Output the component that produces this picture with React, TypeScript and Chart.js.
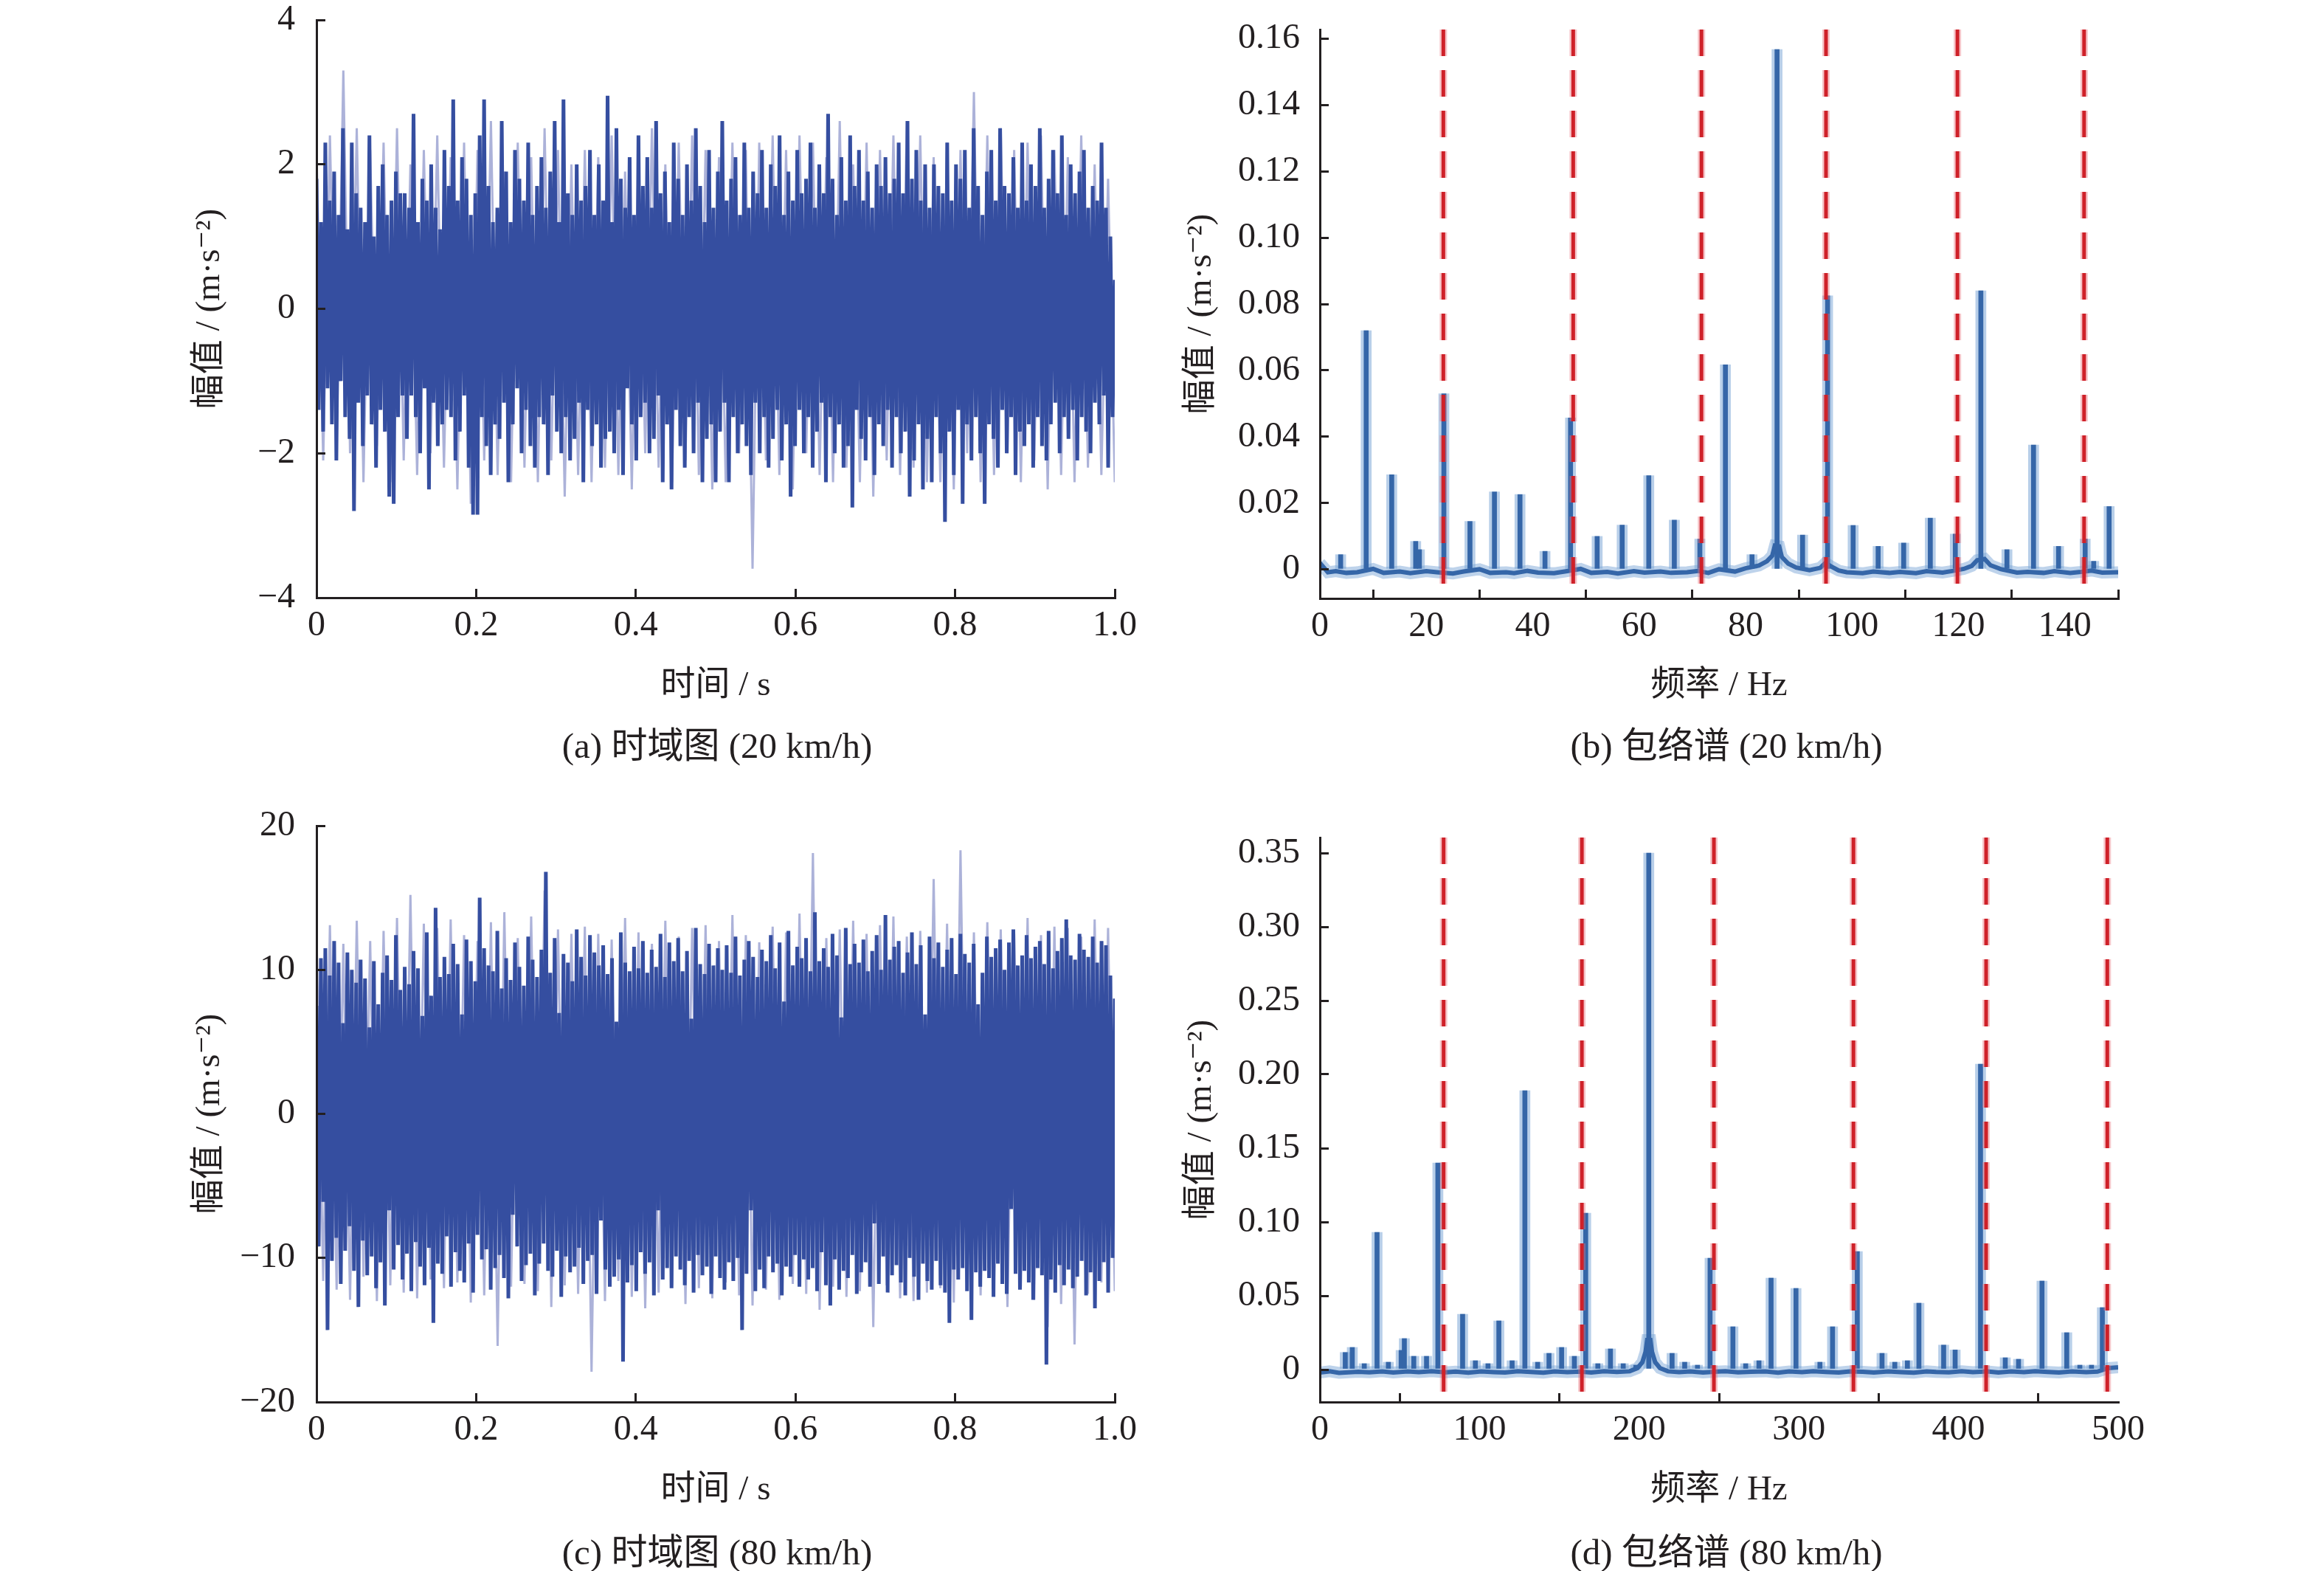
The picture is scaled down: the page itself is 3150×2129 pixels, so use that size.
import React, { useEffect, useRef } from 'react';
import { Chart, registerables } from 'chart.js';

Chart.register(...registerables);

const FONT = "'Liberation Serif', 'DejaVu Serif', 'Noto Sans CJK SC', serif";
const INK = '#231f20';

// ---------- (a) time signal, 20 km/h (m/s^2) ----------
const aSignal = [
  1.8, -1.4, 1.2, -1.7, 2.3, -1.1, 1.5, -1.6, 1.9, -2.1, 1.3, -1.0, 2.5, -1.5, 1.1, -1.8, 2.3, -2.8, 1.6, -1.3,
  1.4, -1.9, 1.2, -1.2, 2.4, -1.6, 1.0, -2.2, 1.7, -1.4, 2.0, -1.7, 1.3, -2.6, 1.5, -2.7, 1.9, -1.5, 1.6, -1.2,
  1.6, -1.8, 1.4, -1.2, 2.7, -1.5, 1.2, -2.0, 1.8, -1.1, 1.5, -2.5, 2.0, -1.3, 1.4, -1.9, 1.1, -1.6, 2.2, -1.4, 1.7, -1.5,
  2.9, -2.1, 1.5, -1.7, 2.1, -1.2, 1.8, -2.2, 1.3, -2.85, 1.6, -2.85, 2.4, -1.5, 2.9, -1.9, 1.7, -2.3, 1.2, -1.6,
  1.4, -1.8, 2.6, -1.3, 1.9, -2.4, 1.2, -1.6, 2.2, -1.1, 1.8, -2.0, 1.5, -1.4, 2.3, -1.9, 1.3, -2.2, 1.7, -1.5,
  2.1, -1.6, 1.4, -2.3, 1.9, -1.2, 2.6, -1.7, 1.2, -2.0, 2.9, -1.5, 1.6, -2.1, 1.3, -1.8, 2.0, -1.3, 1.5, -2.4,
  1.7, -1.4, 2.2, -1.9, 1.3, -1.6, 2.0, -2.2, 1.5, -1.8, 2.95, -1.7, 1.2, -2.0, 2.5, -1.4, 1.8, -2.3, 1.4, -1.1, 2.1,
  -1.6, 1.3, -2.1, 2.4, -1.5, 1.7, -1.3, 2.1, -2.0, 1.4, -1.8, 2.6, -1.2, 1.6, -2.4, 1.9, -1.6, 1.2, -2.5, 2.3,
  -1.4, 1.8, -1.9, 1.3, -2.2, 2.0, -1.5, 1.5, -2.0, 2.5, -1.3, 1.7, -2.4, 1.2, -1.8, 2.2, -1.6, 1.4, -2.4, 1.9,
  -1.7, 2.6, -1.3, 1.5, -2.4, 1.8, -1.5, 2.1, -2.0, 1.3, -1.6, 2.3, -1.9, 1.4, -2.3, 1.9, -1.3, 1.6, -2.0, 2.2,
  -1.5, 1.4, -2.2, 2.0, -1.8, 1.7, -1.4, 2.4, -2.1, 1.3, -1.6, 1.9, -2.6, 1.5, -1.9, 2.2, -1.4, 1.6, -2.0, 1.8,
  -1.5, 2.3, -2.2, 1.4, -1.7, 2.0, -1.3, 1.6, -2.4, 2.7, -1.5, 1.8, -2.0, 1.3, -1.6, 2.1, -2.2, 1.5, -1.9, 2.4,
  -2.75, 1.7, -1.4, 2.2, -1.8, 1.5, -2.1, 1.9, -1.5, 1.4, -2.3, 2.0, -1.6, 1.7, -1.9, 2.1, -1.4, 1.6, -2.2, 1.8,
  -1.5, 2.3, -2.0, 1.6, -1.7, 2.6, -2.6, 1.8, -2.1, 2.2, -1.6, 1.5, -2.5, 2.0, -1.8, 1.4, -2.4, 2.0, -1.5, 1.7,
  -2.0, 1.6, -2.95, 2.3, -1.7, 1.5, -2.3, 2.0, -1.4, 1.8, -2.7, 2.2, -1.6, 1.4, -2.1, 2.5, -1.5, 1.7, -2.0, 1.3,
  -2.7, 1.9, -1.6, 2.2, -1.8, 1.5, -2.2, 2.5, -1.4, 1.7, -2.0, 1.6, -1.5, 2.1, -2.3, 1.4, -1.7, 2.3, -1.9, 1.5,
  -1.6, 2.0, -2.2, 1.7, -1.5, 2.5, -1.9, 1.4, -2.1, 1.8, -1.6, 2.2, -1.3, 1.6, -2.0, 2.4, -1.5, 1.3, -1.8, 2.0,
  -1.4, 1.6, -2.1, 1.9, -1.5, 2.2, -1.7, 1.4, -2.0, 1.7, -1.3, 1.5, -1.6, 2.3, -1.2, 1.4, -2.2, 1.0, -1.5, 0.4,
];
const aSignalFaint = [
  2.2, -2.1, 2.4, -1.9, 3.3, -2.0, 2.5, -2.4, 2.2, -1.9,
  2.3, -2.4, 2.5, -2.1, 2.0, -2.3, 2.2, -2.0, 2.4, -2.2,
  2.1, -2.5, 2.3, -2.7, 2.2, -2.1, 2.6, -2.3, 1.9, -2.4,
  2.3, -2.2, 2.1, -2.4, 2.5, -2.1, 2.2, -2.6, 2.0, -2.3,
  2.2, -2.4, 2.1, -2.2, 2.4, -2.3, 1.9, -2.5, 2.2, -2.0,
  2.5, -2.2, 2.0, -2.4, 2.3, -2.1, 2.4, -2.3, 2.2, -2.5,
  2.1, -2.4, 2.3, -2.0, 2.2, -3.6, 2.3, -2.1, 2.4, -2.3,
  2.2, -2.5, 2.4, -2.0, 2.3, -2.3, 2.1, -2.4, 2.6, -2.2,
  2.0, -2.4, 2.3, -2.6, 2.2, -2.1, 2.4, -2.3, 2.6, -2.2,
  2.4, -2.4, 2.1, -2.4, 2.3, -2.5, 2.2, -2.0, 3.0, -2.4,
  2.4, -2.3, 2.5, -2.0, 2.2, -2.4, 2.3, -2.1, 2.4, -2.5,
  2.2, -2.3, 2.1, -2.4, 2.4, -2.2, 2.0, -2.3, 1.8, -2.4,
];

// ---------- (c) time signal, 80 km/h ----------
const cSignal = [
  7.5, -9.2, 10.8, -6.1, 11.5, -15.0, 9.6, -10.2, 12.0, -8.6, 10.5, -11.8, 6.3, -9.5, 11.2, -7.8, 10.0, -10.9, 9.1, -13.4,
  10.7, -8.8, 9.4, -11.2, 6.0, -9.9, 10.6, -12.1, 7.6, -10.3, 9.8, -13.3, 11.0, -6.7, 9.3, -10.8, 12.4, -9.1, 8.6, -11.5,
  10.2, -9.7, 9.0, -12.3, 11.3, -8.9, 10.1, -10.6, 6.8, -11.9, 12.6, -9.3, 8.2, -14.5, 14.3, -10.4, 9.5, -11.1, 10.9, -8.5, 9.7,
  -12.0, 11.8, -9.6, 10.4, -10.9, 6.9, -11.7, 12.1, -9.0, 10.6, -12.4, 9.2, -8.4, 15.0, -10.1, 11.5, -9.4, 10.3, -12.2, 9.9, -10.7,
  12.7, -9.8, 8.7, -11.4, 10.8, -12.8, 9.3, -7.0, 11.9, -9.2, 10.2, -11.6, 8.9, -10.5, 12.3, -9.7, 10.7, -12.6, 9.5, -10.4,
  11.4, -9.0, 16.8, -10.9, 9.8, -11.3, 12.2, -9.5, 7.0, -12.7, 11.1, -9.9, 10.5, -11.0, 9.2, -10.6, 12.8, -9.3, 10.9, -11.8, 9.6,
  -10.2, 12.4, -9.8, 11.2, -12.5, 10.3, -7.4, 11.7, -10.8, 9.7, -12.0, 10.8, -11.3, 6.4, -10.1, 12.6, -17.2, 10.5, -11.7, 9.9,
  -10.5, 11.6, -12.3, 10.1, -9.6, 12.0, -11.1, 9.8, -10.3, 11.4, -12.6, 10.2, -6.7, 12.5, -11.5, 9.5, -10.7, 11.9, -12.1, 10.6,
  -9.9, 12.2, -10.8, 9.9, -11.9, 11.3, -10.2, 6.6, -12.4, 12.9, -9.8, 10.4, -11.2, 9.7, -10.6, 11.8, -12.5, 10.3, -9.9, 11.5,
  -11.4, 10.0, -12.2, 11.7, -10.3, 9.8, -11.6, 12.3, -10.0, 9.6, -15.0, 10.7, -11.1, 12.0, -6.7, 10.9, -12.3, 9.5, -10.8, 11.4,
  -12.1, 10.6, -9.9, 12.4, -11.0, 10.1, -10.4, 11.9, -12.6, 7.8, -10.6, 12.7, -11.3, 10.3, -9.8, 11.6, -12.0, 10.8, -10.1, 12.2,
  -11.5, 9.9, -10.7, 14.0, -12.3, 10.6, -9.6, 11.5, -11.9, 10.2, -13.3, 12.5, -10.1, 11.0, -12.2, 6.7, -10.9, 12.9, -11.4, 10.4,
  -9.8, 11.8, -12.5, 10.5, -11.0, 12.1, -10.3, 9.9, -12.0, 11.3, -7.6, 12.4, -11.8, 10.0, -9.9, 13.8, -12.4, 10.7, -11.2, 11.6,
  -10.5, 12.0, -11.7, 9.8, -12.6, 11.2, -10.0, 12.6, -11.3, 10.4, -12.9, 11.7, -10.4, 6.9, -11.6, 12.3, -12.2, 10.8, -10.2, 11.9,
  -11.9, 10.2, -12.4, 11.4, -14.5, 12.2, -10.8, 9.7, -11.5, 12.5, -10.7, 11.1, -12.3, 10.5, -14.3, 11.8, -11.0, 7.6, -12.0, 9.8,
  -10.9, 12.3, -11.4, 10.9, -12.7, 11.5, -10.4, 12.1, -11.8, 10.0, -12.5, 11.9, -6.6, 12.8, -11.1, 10.3, -12.2, 11.0, -10.9, 12.4,
  -11.7, 10.8, -12.9, 11.6, -10.7, 12.0, -11.2, 10.4, -17.4, 12.7, -11.5, 10.1, -12.4, 11.3, -10.5, 12.2, -11.9, 13.5, -10.8, 11.0,
  -12.1, 10.7, -11.3, 12.5, -10.2, 11.4, -12.6, 10.9, -11.0, 12.3, -13.5, 10.5, -11.6, 12.0, -10.3, 11.7, -12.4, 9.6, -10.0, 8.0,
];
const cSignalFaint = [
  12.5, -11.6, 13.1, -12.2, 11.8, -12.9, 13.4, -11.3, 12.0, -13.0,
  12.7, -11.9, 13.6, -12.4, 15.2, -12.8, 13.2, -11.5, 12.9, -12.1,
  13.5, -11.7, 12.4, -13.1, 12.0, -12.6, 13.3, -16.1, 14.0, -12.0,
  12.2, -11.8, 13.7, -12.3, 15.5, -13.4, 12.8, -11.9, 12.5, -12.5,
  13.0, -17.9, 12.5, -13.0, 12.1, -11.6, 13.6, -12.7, 12.6, -13.5,
  11.8, -12.4, 13.4, -11.9, 12.3, -13.2, 12.9, -12.1, 13.1, -12.8,
  12.0, -11.7, 13.8, -12.6, 12.4, -13.3, 11.9, -12.2, 13.0, -12.9,
  12.6, -11.8, 13.9, -12.5, 18.1, -13.6, 12.2, -12.0, 12.8, -12.7,
  13.4, -12.3, 12.5, -14.8, 13.1, -11.9, 13.7, -12.8, 12.3, -13.0,
  12.7, -12.4, 16.3, -12.1, 13.2, -13.1, 18.3, -12.0, 12.6, -12.6,
  13.3, -11.8, 12.8, -13.4, 12.5, -12.0, 13.6, -12.9, 12.4, -14.8,
  13.0, -13.2, 12.9, -16.0, 12.3, -12.5, 13.5, -11.7, 12.9, -12.3,
];

// ---------- (b) envelope spectrum, 20 km/h ----------
const bPeakHz = [3.9, 8.7, 13.5, 18.0, 18.7, 23.3, 28.2, 32.8, 37.6, 42.3, 47.1, 52.1, 56.8, 61.8, 66.6, 71.4, 76.2, 81.2, 85.9, 90.7, 95.4, 100.2, 104.9, 109.7, 114.7, 119.4, 124.2, 129.1, 134.1, 138.8, 143.8, 145.4, 148.3];
const bPeakAmp = [0.0045, 0.072, 0.0286, 0.0085, 0.006, 0.053, 0.0145, 0.0234, 0.0226, 0.0055, 0.0457, 0.010, 0.0134, 0.0283, 0.0149, 0.0092, 0.0617, 0.0045, 0.1567, 0.0104, 0.0825, 0.0133, 0.007, 0.008, 0.0155, 0.0107, 0.084, 0.006, 0.0375, 0.007, 0.0092, 0.0025, 0.019];
const bFloorHz = [0, 1.5, 3, 5, 7, 10, 12, 15, 17, 20, 22, 25, 27, 30, 32, 35, 36.5, 39, 41, 44, 46, 49, 51, 54, 56, 59, 61, 64, 66, 69, 71, 73, 75, 78, 80, 82.5, 84, 85, 85.5, 86.3, 86.8, 88, 89.5, 92, 94, 95, 96, 97.5, 99, 102, 104, 107, 109, 112, 114, 117, 119, 121, 122.5, 123.5, 124.9, 126, 128, 131, 133, 136, 138, 141, 143, 145, 147, 150];
const bFloorAmp = [0.002, -0.0008, -0.0005, -0.001, -0.0008, 0.0002, -0.001, -0.0006, -0.0011, -0.0005, -0.0008, -0.0012, -0.0006, 0.0001, -0.001, -0.0008, -0.0011, -0.0004, -0.0009, -0.0011, -0.0006, 0.0002, -0.001, -0.0007, -0.0012, -0.0005, -0.0009, -0.0006, -0.001, -0.0008, -0.0004, -0.001, 0.0001, -0.0006, 0.0004, 0.0012, 0.0025, 0.0042, 0.0072, 0.007, 0.0038, 0.0018, 0.0006, -0.0002, 0.0005, 0.002, 0.001, -0.0003, -0.0008, -0.0011, -0.0006, -0.001, -0.0007, -0.0011, -0.0005, -0.0009, -0.0004, 0.0002, 0.0011, 0.0028, 0.0032, 0.0013, 0.0001, -0.0009, -0.0007, -0.001, -0.0005, -0.001, -0.0007, -0.0003, -0.0009, -0.0008];
const bMarkHz = [23.2, 47.6, 71.7, 95.1, 119.8, 143.6];

// ---------- (d) envelope spectrum, 80 km/h ----------
const dPeakHz = [15.9, 20.3, 27.8, 35.8, 42.9, 50.9, 52.9, 58.8, 66.8, 73.9, 89.4, 97.4, 105.3, 112.1, 120.4, 128.4, 136.4, 143.5, 151.4, 159.4, 166.5, 174.1, 182.0, 190.0, 197.9, 206.0, 220.6, 228.5, 236.5, 244.4, 258.7, 266.7, 275.0, 282.6, 298.2, 313.2, 321.1, 336.6, 352.1, 360.1, 368.0, 375.2, 390.7, 397.9, 413.8, 429.3, 437.6, 452.3, 467.8, 476.0, 483.3, 490.1];
const dPeakAmp = [0.0116, 0.015, 0.004, 0.093, 0.005, 0.013, 0.021, 0.009, 0.009, 0.140, 0.0375, 0.006, 0.004, 0.033, 0.006, 0.189, 0.005, 0.011, 0.015, 0.009, 0.106, 0.004, 0.014, 0.004, 0.003, 0.350, 0.011, 0.005, 0.003, 0.0755, 0.029, 0.004, 0.006, 0.062, 0.055, 0.005, 0.029, 0.080, 0.011, 0.005, 0.006, 0.045, 0.0166, 0.0133, 0.207, 0.008, 0.007, 0.060, 0.025, 0.003, 0.003, 0.042];
const dFloorHz = [0, 6, 12, 24, 31, 39, 46, 55, 62, 70, 79, 85, 93, 101, 109, 116, 124, 132, 140, 147, 155, 163, 170, 178, 186, 194, 199, 202, 204, 205, 207, 208, 210, 213, 218, 225, 232, 240, 249, 254, 262, 270, 279, 287, 294, 302, 309, 317, 325, 332, 340, 347, 356, 364, 372, 380, 386, 394, 402, 409, 418, 425, 433, 441, 448, 456, 463, 471, 480, 487, 494, 500];
const dFloorAmp = [-0.002, -0.0012, -0.0022, -0.0015, -0.0019, -0.0012, -0.002, -0.0013, -0.0018, -0.0011, -0.0019, -0.0014, -0.0021, -0.0012, -0.0017, -0.002, -0.0011, -0.0016, -0.0021, -0.0012, -0.0018, -0.0014, -0.002, -0.0011, -0.0016, -0.0012, 0.001, 0.005, 0.012, 0.02, 0.02, 0.012, 0.005, 0.001, -0.0012, -0.0017, -0.0012, -0.002, -0.0014, -0.0011, -0.0019, -0.0015, -0.0012, -0.0021, -0.0013, -0.0018, -0.0011, -0.0016, -0.002, -0.0012, -0.0015, -0.002, -0.0012, -0.0017, -0.0021, -0.0012, -0.0016, -0.0019, -0.0011, -0.0017, -0.0013, -0.002, -0.0012, -0.0018, -0.0011, -0.0016, -0.002, -0.0012, -0.0017, -0.0014, 0.001, 0.0015];
const dMarkHz = [77.5, 164.1, 246.8, 334.2, 417.3, 493.2];

// ---------- tick values ----------
const timeTicks = [0, 0.2, 0.4, 0.6, 0.8, 1.0];
const aYTicks = [-4, -2, 0, 2, 4];
const cYTicks = [-20, -10, 0, 10, 20];
const bXTicks = [0, 20, 40, 60, 80, 100, 120, 140];
const bYTicks = [0, 0.02, 0.04, 0.06, 0.08, 0.10, 0.12, 0.14, 0.16];
const dXTicks = [0, 100, 200, 300, 400, 500];
const dYTicks = [0, 0.05, 0.10, 0.15, 0.20, 0.25, 0.30, 0.35];

const Y_TITLE = '幅值 / (m·s⁻²)';

const TICK_FONT = { family: FONT, size: 48, lineHeight: 1 };
const TITLE_FONT = { family: FONT, size: 47, lineHeight: 1 };

const fixSize = (size: number) => (scale: any) => {
  if (scale.isHorizontal()) scale.height = size;
  else scale.width = size;
  scale.paddingTop = 0;
  scale.paddingBottom = 0;
  scale.paddingLeft = 0;
  scale.paddingRight = 0;
};
const useTicks = (vals: number[]) => (scale: any) => {
  scale.ticks = vals.map((v) => ({ value: v }));
};
const minus = (v: number) => (v < 0 ? '\u2212' + String(Math.abs(v)) : String(v));

function axis(opts: any) {
  return {
    type: 'linear',
    min: opts.min,
    max: opts.max,
    offset: false,
    afterBuildTicks: useTicks(opts.ticks),
    afterFit: fixSize(opts.size),
    grid: { display: true, drawOnChartArea: false, drawTicks: true, tickLength: -12, color: INK, lineWidth: 3, z: 1 },
    border: { display: true, color: INK, width: 3, z: 1 },
    ticks: { font: TICK_FONT, color: INK, padding: opts.tickPad, maxRotation: 0, autoSkip: false, callback: opts.fmt },
    title: { display: true, text: opts.title, font: TITLE_FONT, color: INK, padding: opts.titlePad },
  };
}

const basePlugins = { legend: { display: false }, tooltip: { enabled: false }, title: { display: false } };

function timeConfig(sig: number[], faint: number[], yMin: number, yMax: number, yTicks: number[], lay: any) {
  const pts = (vals: number[]) => vals.map((v, i) => ({ x: i / (vals.length - 1), y: v }));
  return {
    type: 'line',
    data: {
      datasets: [
        { data: pts(sig), borderColor: '#354ea0', borderWidth: 5, pointRadius: 0, borderJoinStyle: 'bevel', tension: 0 },
        { data: pts(faint), borderColor: 'rgba(70,85,170,0.45)', borderWidth: 3, pointRadius: 0, borderJoinStyle: 'bevel', tension: 0 },
      ],
    },
    options: {
      animation: false,
      responsive: false,
      devicePixelRatio: 1,
      events: [],
      layout: { padding: { left: 0, top: lay.top, right: lay.right, bottom: 0 } },
      plugins: basePlugins,
      scales: {
        x: axis({
          min: 0, max: 1, ticks: timeTicks, size: lay.xh, tickPad: 26,
          fmt: (v: number) => (v === 0 ? '0' : Number(v).toFixed(1)),
          title: '时间 / s', titlePad: { top: 0, bottom: lay.xtb },
        }),
        y: axis({
          min: yMin, max: yMax, ticks: yTicks, size: lay.yw, tickPad: 41,
          fmt: (v: number) => minus(v),
          title: Y_TITLE, titlePad: { top: lay.ytp, bottom: 0 },
        }),
      },
    },
  };
}

function specConfig(peakHz: number[], peakAmp: number[], floorHz: number[], floorAmp: number[], marks: number[], o: any) {
  const peaks = peakHz.map((f, i) => ({ x: f, y: peakAmp[i] }));
  const floor = floorHz.map((f, i) => ({ x: f, y: floorAmp[i] }));
  const redCore = marks.map((f) => ({
    type: 'line', data: [{ x: f, y: o.markTop }, { x: f, y: o.markBottom }],
    borderColor: '#cf2129', borderWidth: 5, borderDash: [36, 19], pointRadius: 0,
  }));
  const redGlow = marks.map((f) => ({
    type: 'line', data: [{ x: f, y: o.markTop }, { x: f, y: o.markBottom }],
    borderColor: 'rgba(232,110,120,0.4)', borderWidth: 10, borderDash: [36, 19], pointRadius: 0,
  }));
  return {
    type: 'line',
    data: {
      datasets: [
        ...redCore,
        ...redGlow,
        { type: 'bar', data: peaks, backgroundColor: '#3566a8', barThickness: 6, grouped: false, borderWidth: 0 },
        { type: 'line', data: floor, borderColor: '#3566a8', borderWidth: 6, pointRadius: 0, tension: 0 },
        { type: 'bar', data: peaks, backgroundColor: 'rgba(125,168,215,0.55)', barThickness: 14, grouped: false, borderWidth: 0 },
        { type: 'line', data: floor, borderColor: 'rgba(125,168,215,0.5)', borderWidth: 16, pointRadius: 0, tension: 0 },
      ],
    },
    options: {
      animation: false,
      responsive: false,
      devicePixelRatio: 1,
      events: [],
      layout: { padding: { left: 0, top: o.lay.top, right: o.lay.right, bottom: 0 } },
      plugins: basePlugins,
      scales: {
        x: axis({
          min: 0, max: o.xMax, ticks: o.xTicks, size: o.lay.xh, tickPad: 26,
          fmt: (v: number) => String(v),
          title: '频率 / Hz', titlePad: { top: 0, bottom: o.lay.xtb },
        }),
        y: axis({
          min: o.yMin, max: o.yMax, ticks: o.yTicks, size: o.lay.yw, tickPad: 39,
          fmt: (v: number) => (v === 0 ? '0' : Number(v).toFixed(2)),
          title: Y_TITLE, titlePad: { top: o.lay.ytp, bottom: 0 },
        }),
      },
    },
  };
}

function Panel({ left, top, width, height, build }: any) {
  const ref = useRef<HTMLCanvasElement | null>(null);
  useEffect(() => {
    if (!ref.current) return;
    const chart = new Chart(ref.current, build() as any);
    return () => chart.destroy();
  }, []);
  return (
    <canvas
      ref={ref}
      width={width}
      height={height}
      style={{ position: 'absolute', left, top, width, height }}
    />
  );
}

function Caption({ x, y, text }: any) {
  return (
    <div
      style={{
        position: 'absolute', left: x, top: y, transform: 'translate(-50%, -50%)',
        font: `49px ${FONT}`, color: INK, whiteSpace: 'nowrap', lineHeight: '1',
      }}
    >
      {text}
    </div>
  );
}

export default function App() {
  return (
    <div style={{ position: 'absolute', left: 0, top: 0, width: 3150, height: 2129, background: '#fff', overflow: 'hidden' }}>
      <Panel
        left={0} top={0} width={1575} height={960}
        build={() => timeConfig(aSignal, aSignalFaint, -4, 4, aYTicks, { top: 27, right: 64, xh: 150, yw: 429, xtb: 7, ytp: 261 })}
      />
      <Panel
        left={1575} top={0} width={1575} height={960}
        build={() => specConfig(bPeakHz, bPeakAmp, bFloorHz, bFloorAmp, bMarkHz, {
          xMax: 150, xTicks: bXTicks, yMin: -0.0087, yMax: 0.1627, yTicks: bYTicks,
          markTop: 0.1627, markBottom: -0.0068,
          lay: { top: 40, right: 279, xh: 149, yw: 214, xtb: 7, ytp: 30 },
        })}
      />
      <Panel
        left={0} top={1064} width={1575} height={1000}
        build={() => timeConfig(cSignal, cSignalFaint, -20, 20, cYTicks, { top: 55, right: 64, xh: 164, yw: 429, xtb: 21, ytp: 261 })}
      />
      <Panel
        left={1575} top={1064} width={1575} height={1000}
        build={() => specConfig(dPeakHz, dPeakAmp, dFloorHz, dFloorAmp, dMarkHz, {
          xMax: 500, xTicks: dXTicks, yMin: -0.022, yMax: 0.3605, yTicks: dYTicks,
          markTop: 0.3605, markBottom: -0.0185,
          lay: { top: 71, right: 279, xh: 164, yw: 214, xtb: 21, ytp: 30 },
        })}
      />
      <Caption x={972} y={1010} text="(a) 时域图 (20 km/h)" />
      <Caption x={2340} y={1010} text="(b) 包络谱 (20 km/h)" />
      <Caption x={972} y={2103} text="(c) 时域图 (80 km/h)" />
      <Caption x={2340} y={2103} text="(d) 包络谱 (80 km/h)" />
    </div>
  );
}
